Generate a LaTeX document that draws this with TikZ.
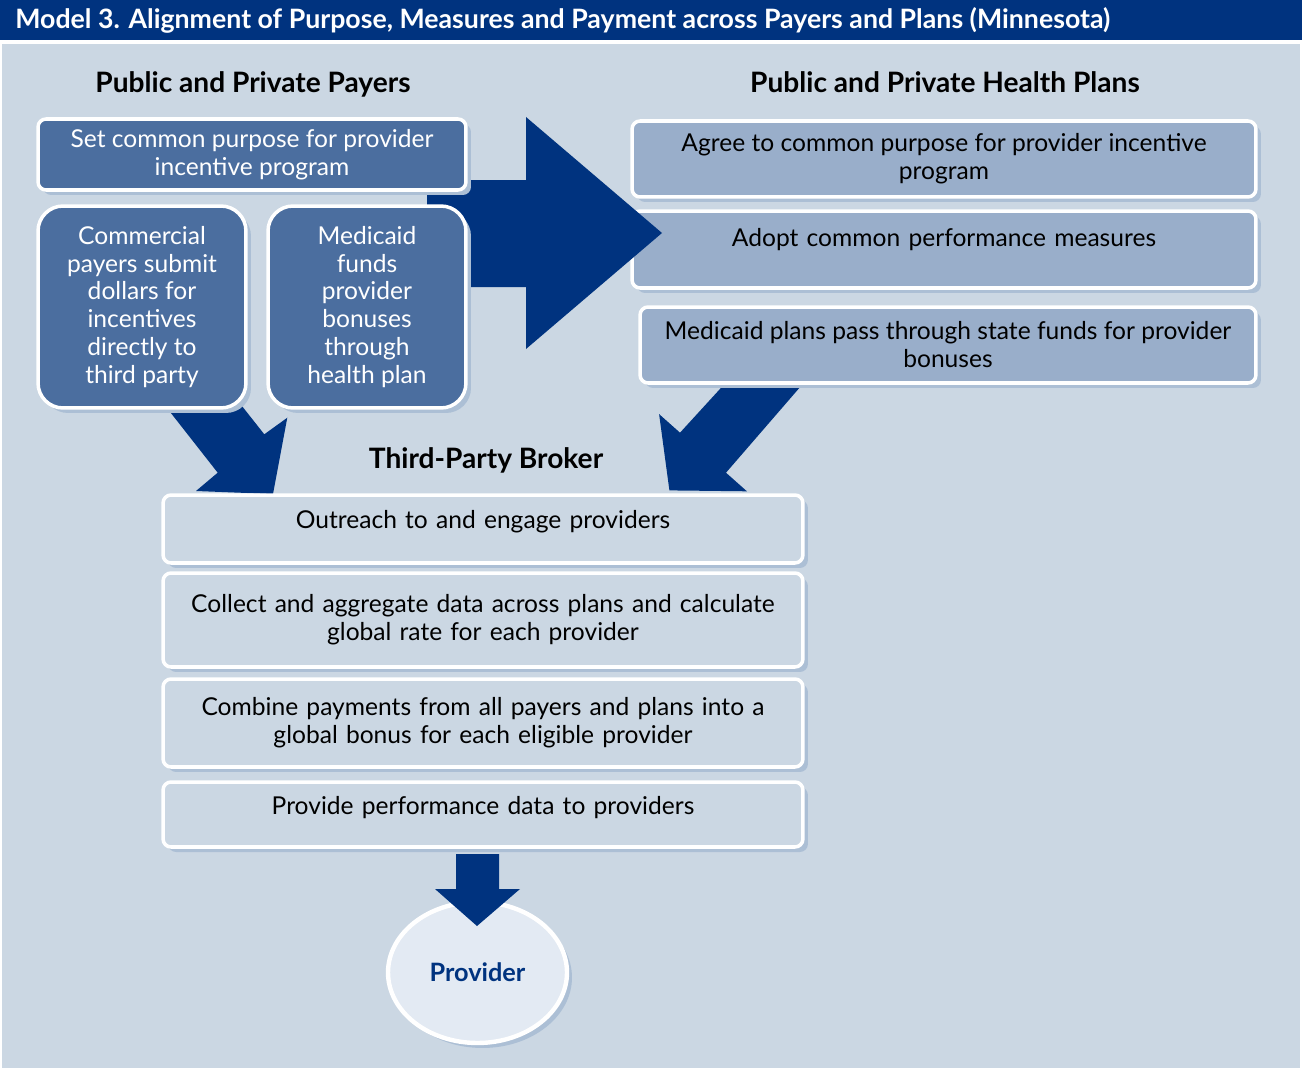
\documentclass[tikz,border=0pt]{standalone}
\usepackage{fontspec}
\setmainfont{Lato}
\usetikzlibrary{shapes.geometric,shadows}
\definecolor{navy}{HTML}{00337F}
\definecolor{panel}{HTML}{CBD7E3}
\definecolor{payerblue}{HTML}{4B6E9F}
\definecolor{planblue}{HTML}{99AECA}
\definecolor{shade}{HTML}{ACBFD5}
\definecolor{provfill}{HTML}{E3EAF3}
\newcommand{\bodysize}{\fontsize{14}{15.9}\selectfont}
\newcommand{\headsize}{\fontsize{16}{18}\selectfont\bfseries}
\tikzset{
    boxshadow/.style={drop shadow={shadow xshift=.1cm,shadow yshift=-.1cm,fill=shade,opacity=1}},
    payerbox/.style={draw=white,line width=2pt,fill=payerblue,text=white,align=center,inner sep=0pt,font=\bodysize,boxshadow},
    planbox/.style={draw=white,line width=2pt,fill=planblue,text=black,align=center,inner sep=0pt,rounded corners=.16cm,font=\bodysize,boxshadow,minimum height=1.52cm},
    brokerbox/.style={draw=white,line width=2pt,fill=panel,text=black,align=center,inner sep=0pt,rounded corners=.16cm,font=\bodysize,boxshadow,minimum width=12.8cm,text width=12.4cm},
    heading/.style={font=\headsize,inner sep=0pt},
    blockarrow/.style={fill=navy,draw=none},
    provcircle/.style={ellipse,draw=white,line width=2.5pt,fill=provfill,text=navy,font=\fontsize{14.4}{16}\selectfont\bfseries,minimum width=3.58cm,minimum height=2.82cm,boxshadow}
}

\begin{document}
\begin{tikzpicture}[x=.02cm,y=-.02cm]
    \useasboundingbox (0,0) rectangle (1302,1068);
    \fill[white] (0,0) rectangle (1302,1068);
    \fill[navy] (0,0) rectangle (1302,40);
    \fill[panel] (2,44) rectangle (1300,1068);
    \node[anchor=west,text=white,font=\fontsize{15.2}{17}\selectfont\bfseries,inner sep=0pt] (modeltitle) at (15,20) {Model 3. Alignment of Purpose, Measures and Payment across Payers and Plans (Minnesota)};

    % arrows down into the broker
    \fill[blockarrow] (160.7,400) -- (217.7,472.7) -- (196,491) -- (273,494) -- (287.3,417.7) -- (264.3,434.3) -- (237.2,400) -- cycle;
    \fill[blockarrow] (728.2,380) -- (680,432.7) -- (659.1,414.1) -- (669.4,490.4) -- (746.9,491.3) -- (726,472.7) -- (806.2,380) -- cycle;

    % Health plans
    \node[heading] (plantitle) at (945,82) {Public and Private Health Plans};
    \node[planbox,minimum width=12.48cm] (agree) at (944,159) {Agree to common purpose for provider incentive\\program};
    \node[planbox,minimum width=12.48cm,text width=12.08cm,text height=.70cm,text depth=.84cm] (adopt) at (944,249.5) {Adopt common performance measures};
    \node[planbox,minimum width=12.32cm] (medplans) at (948,345) {Medicaid plans pass through state funds for provider\\bonuses};

    % arrow from payers to plans
    \fill[blockarrow] (427,180) -- (526,180) -- (526,117) -- (662,233) -- (526,349) -- (526,287) -- (427,287) -- cycle;

    % Payers
    \node[heading] (payertitle) at (253,84) {Public and Private Payers};
    \node[payerbox,rounded corners=.16cm,minimum width=8.56cm,minimum height=1.42cm] (setpurpose) at (252,154.5) {Set common purpose for provider\\incentive program};
    \node[payerbox,rounded corners=.5cm,minimum width=4.16cm,minimum height=4.04cm] (commercial) at (142,307) {Commercial\\payers submit\\dollars for\\incentives\\directly to\\third party};
    \node[payerbox,rounded corners=.5cm,minimum width=3.96cm,minimum height=4.04cm] (medicaidfund) at (367,307) {Medicaid\\funds\\provider\\bonuses\\through\\health plan};

    % Broker
    \node[heading] (brokertitle) at (486,460) {Third-Party Broker};
    \node[brokerbox,text height=.66cm,text depth=.70cm] (outreach) at (483,529) {Outreach to and engage providers};
    \node[brokerbox,minimum height=1.88cm] (collect) at (483,620) {Collect and aggregate data across plans and calculate\\global rate for each provider};
    \node[brokerbox,minimum height=1.76cm] (combine) at (483,723) {Combine payments from all payers and plans into a\\global bonus for each eligible provider};
    \node[brokerbox,text height=.64cm,text depth=.66cm] (provide) at (483,814.5) {Provide performance data to providers};

    % Provider
    \node[provcircle] (provider) at (477.5,972.5) {Provider};
    \fill[blockarrow] (456,854) -- (499,854) -- (499,889) -- (520,889) -- (477,926) -- (435,889) -- (456,889) -- cycle;
\end{tikzpicture}
\end{document}
